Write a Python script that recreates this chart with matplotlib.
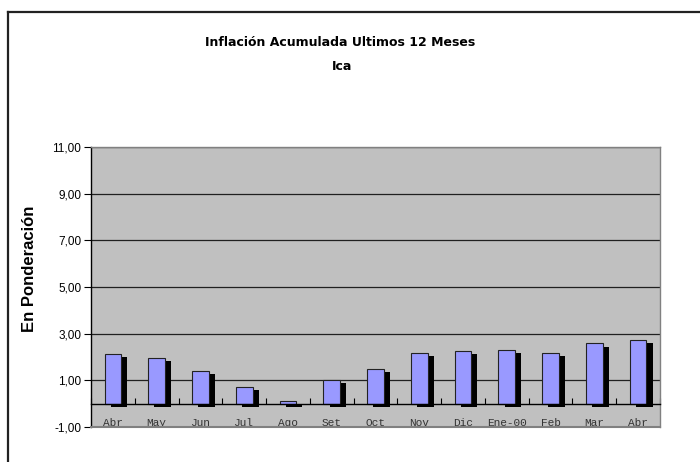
import numpy as np
import matplotlib
matplotlib.use("Agg")
import matplotlib.pyplot as plt
from matplotlib.lines import Line2D

# ------------------------------------------------------------------ #
# Data
# ------------------------------------------------------------------ #
months = ["Abr", "May", "Jun", "Jul", "Ago", "Set", "Oct",
          "Nov", "Dic", "Ene-00", "Feb", "Mar", "Abr"]
inflation = [2.11, 1.95, 1.42, 0.71, 0.12, 1.00, 1.47,
             2.18, 2.24, 2.31, 2.18, 2.58, 2.73]
y_ticks = [-1, 1, 3, 5, 7, 9, 11]

title = "Inflación Acumulada Ultimos 12 Meses"
subtitle = "Ica"
y_label = "En Ponderación"

# ------------------------------------------------------------------ #
# Figure
# ------------------------------------------------------------------ #
W, H = 700, 462
fig = plt.figure(figsize=(W / 100, H / 100), dpi=100)
fig.patch.set_facecolor("white")

# outer chart frame (only top and left edges visible in the crop)
fig.add_artist(Line2D([8 / W, 1.0], [1 - 12 / H, 1 - 12 / H],
                      color="#222222", lw=1.6, transform=fig.transFigure))
fig.add_artist(Line2D([8 / W, 8 / W], [0.0, 1 - 12 / H],
                      color="#222222", lw=1.6, transform=fig.transFigure))

left, right, top, bottom = 91, 660, 147, 427
ax = fig.add_axes([left / W, 1 - bottom / H, (right - left) / W, (bottom - top) / H])
ax.set_facecolor("#C0C0C0")

x = np.arange(len(months))
width = 0.38
dx, dy = 0.14, 0.13   # shadow offset

ax.bar(x + dx, inflation, width, bottom=-dy, color="black", zorder=2)
ax.bar(x, inflation, width, color="#9999FF", edgecolor="#222222", lw=0.8, zorder=3)

ax.set_xlim(-0.5, len(months) - 0.5)
ax.set_ylim(-1, 11)

# y axis
ax.set_yticks(y_ticks)
ax.set_yticklabels([f"{v:.2f}".replace(".", ",") for v in y_ticks],
                   family="Liberation Sans", fontsize=8.5)
ax.tick_params(axis="y", direction="out", length=5, width=0.8, pad=2)
ax.yaxis.grid(True, color="#202020", lw=0.9, zorder=1)
ax.set_axisbelow(True)

# x axis sits on the zero line
ax.spines["bottom"].set_position(("data", 0))
ax.spines["bottom"].set_color("black")
ax.spines["bottom"].set_linewidth(1.0)
ax.spines["bottom"].set_zorder(4)
ax.set_xticks(np.arange(-0.5, len(months) - 0.4, 1.0))
ax.set_xticklabels([])
ax.set_xticks(x, minor=True)
ax.set_xticklabels(months, minor=True, family="Liberation Mono", fontsize=8,
                   color="#333333")
ax.tick_params(axis="x", which="major", direction="in", length=4, width=0.8)
ax.tick_params(axis="x", which="minor", length=0, pad=10)

ax.spines["left"].set_color("black")
ax.spines["left"].set_linewidth(1.0)
for side in ("top", "right"):
    ax.spines[side].set_color("#808080")
    ax.spines[side].set_linewidth(1.0)
ax.axhline(-1, color="#808080", lw=1.5, clip_on=False, zorder=5)

ax.set_ylabel(y_label, family="Liberation Sans", fontsize=12, fontweight="bold")
ax.yaxis.set_label_coords(-0.095, 0.565)

fig.text(340 / W, 1 - 43 / H, title, ha="center", va="center",
         family="DejaVu Sans", fontsize=9, fontweight="bold")
fig.text(342 / W, 1 - 67 / H, subtitle, ha="center", va="center",
         family="DejaVu Sans", fontsize=9, fontweight="bold")

fig.savefig("out.png", dpi=100)
